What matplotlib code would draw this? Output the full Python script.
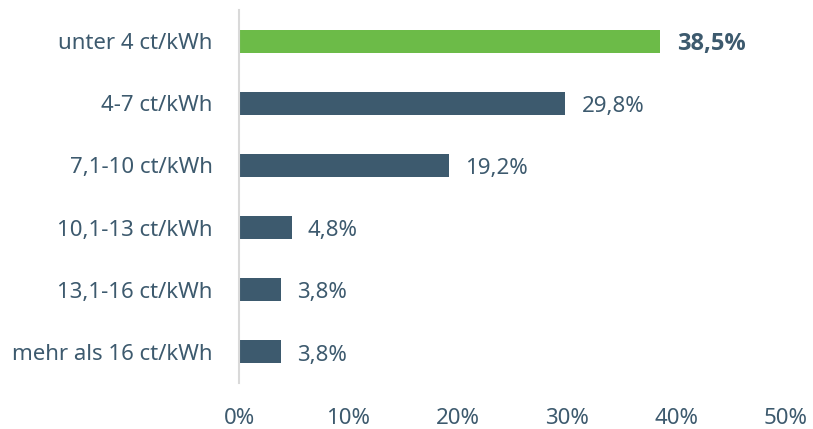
import matplotlib.pyplot as plt
import numpy as np

plt.rcParams['font.family'] = ['Noto Sans', 'DejaVu Sans']

kategorien = ["unter 4 ct/kWh", "4-7 ct/kWh", "7,1-10 ct/kWh",
              "10,1-13 ct/kWh", "13,1-16 ct/kWh", "mehr als 16 ct/kWh"]
anteile = [38.5, 29.8, 19.2, 4.8, 3.8, 3.8]
x_ticks = [0, 10, 20, 30, 40, 50]

dunkel = '#3d5a6e'
gruen = '#6cbb48'
farben = [gruen] + [dunkel] * 5

fig = plt.figure(figsize=(8.13, 4.29), dpi=100)
ax = fig.add_axes([0.294, 0.1072, 0.6728, 0.8695])

y = np.arange(len(kategorien))
ax.barh(y, anteile, height=0.37, color=farben)

for i, v in enumerate(anteile):
    txt = f"{v:.1f}%".replace('.', ',')
    if i == 0:
        ax.text(v + 1.5, i + 0.04, txt, va='center', ha='left', fontsize=17,
                color=dunkel, fontweight='bold', family=['Open Sans', 'DejaVu Sans'])
    else:
        ax.text(v + 1.5, i + 0.05, txt, va='center', ha='left', fontsize=16,
                color=dunkel)

ax.set_ylim(len(kategorien) - 0.5, -0.5)
ax.set_xlim(0, 50)
ax.set_yticks(y)
ax.set_yticklabels(kategorien)
ax.set_xticks(x_ticks)
ax.set_xticklabels([f"{t}%" for t in x_ticks])
ax.tick_params(axis='both', length=0, labelsize=16, colors=dunkel)
ax.tick_params(axis='y', pad=19)
ax.tick_params(axis='x', pad=18)

for s in ['top', 'right', 'bottom']:
    ax.spines[s].set_visible(False)
ax.spines['left'].set_color('#d9d9d9')
ax.spines['left'].set_linewidth(1.5)

fig.savefig('out.png', dpi=100)
